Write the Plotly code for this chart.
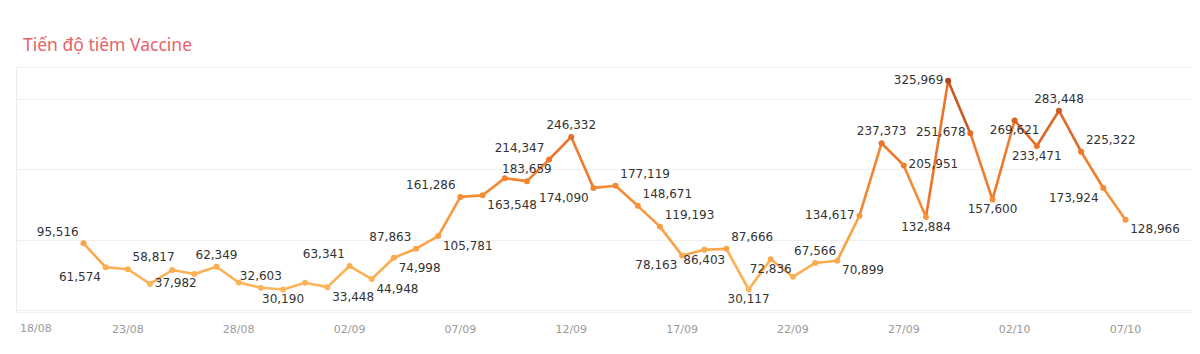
import plotly.graph_objects as go
from plotly.colors import sample_colorscale

# ---- data ----
dates = ["2021-08-21", "2021-08-22", "2021-08-23", "2021-08-24", "2021-08-25", "2021-08-26",
         "2021-08-27", "2021-08-28", "2021-08-29", "2021-08-30", "2021-08-31", "2021-09-01",
         "2021-09-02", "2021-09-03", "2021-09-04", "2021-09-05", "2021-09-06", "2021-09-07",
         "2021-09-08", "2021-09-09", "2021-09-10", "2021-09-11", "2021-09-12", "2021-09-13",
         "2021-09-14", "2021-09-15", "2021-09-16", "2021-09-17", "2021-09-18", "2021-09-19",
         "2021-09-20", "2021-09-21", "2021-09-22", "2021-09-23", "2021-09-24", "2021-09-25",
         "2021-09-26", "2021-09-27", "2021-09-28", "2021-09-29", "2021-09-30", "2021-10-01",
         "2021-10-02", "2021-10-03", "2021-10-04", "2021-10-05", "2021-10-06", "2021-10-07"]
values = [95516, 61574, 58817, 37982, 57700, 52000,
          62349, 40000, 32603, 30190, 39600, 33448,
          63341, 44948, 74998, 87863, 105781, 161286,
          163548, 187900, 183659, 214347, 246332, 174090,
          177119, 148671, 119193, 78163, 86403, 87666,
          30117, 72836, 48200, 67566, 70899, 134617,
          237373, 205951, 132884, 325969, 251678, 157600,
          269621, 233471, 283448, 225322, 173924, 128966]
labeled = [1, 1, 1, 1, 0, 0,
           1, 0, 1, 1, 0, 1,
           1, 1, 1, 1, 1, 1,
           1, 0, 1, 1, 1, 1,
           1, 1, 1, 1, 1, 1,
           1, 1, 0, 1, 1, 1,
           1, 1, 1, 1, 1, 1,
           1, 1, 1, 1, 1, 1]
label_pos = ["top left", "bottom left", "top right", "middle right", "top center", "top center",
             "top center", "top center", "top center", "bottom center", "top center", "bottom right",
             "top left", "bottom right", "bottom right", "top left", "bottom right", "top left",
             "bottom right", "top center", "top center", "top left", "top center", "bottom left",
             "top right", "top right", "top right", "bottom left", "bottom center", "top right",
             "bottom center", "bottom center", "top center", "top center", "bottom right", "middle left",
             "top center", "middle right", "bottom center", "middle left", "middle left", "bottom center",
             "bottom center", "bottom center", "top center", "top right", "bottom left", "bottom right"]
tick_vals = ["2021-08-18", "2021-08-23", "2021-08-28", "2021-09-02", "2021-09-07", "2021-09-12",
             "2021-09-17", "2021-09-22", "2021-09-27", "2021-10-02", "2021-10-07"]
tick_text = ["18/08", "23/08", "28/08", "02/09", "07/09", "12/09",
             "17/09", "22/09", "27/09", "02/10", "07/10"]
title_text = "Tiến độ tiêm Vaccine"

colorscale = [[0.0, "#fdb65c"], [0.35, "#f8983c"], [0.7, "#ea7229"], [1.0, "#b0481c"]]
vmin, vmax = min(values), max(values)
tick_font = dict(family="DejaVu Sans", size=11, color="#9a9a9a")


def col(v):
    t = (v - vmin) / (vmax - vmin)
    return sample_colorscale(colorscale, [min(max(t, 0), 1)])[0]


fig = go.Figure()

# line segments, each coloured by its mean value
for i in range(len(values) - 1):
    fig.add_trace(go.Scatter(
        x=[dates[i], dates[i + 1]], y=[values[i], values[i + 1]],
        mode="lines", line=dict(color=col((values[i] + values[i + 1]) / 2), width=2.6),
        hoverinfo="skip", showlegend=False))

texts = [f"{v:,}" if l else "" for v, l in zip(values, labeled)]
fig.add_trace(go.Scatter(
    x=dates, y=values, mode="markers+text",
    marker=dict(size=6, color=[col(v) for v in values]),
    text=texts, textposition=label_pos,
    textfont=dict(family="DejaVu Sans", size=12, color="#333333"),
    showlegend=False, cliponaxis=False))

# first tick label sits inside the panel (left-aligned) in the reference
tick_labels = [""] + tick_text[1:]
fig.add_annotation(x=tick_vals[0], xref="x", xanchor="left", xshift=1,
                   y=0, yref="paper", yanchor="middle", yshift=-16,
                   text=tick_text[0], showarrow=False, font=tick_font)

fig.update_layout(
    width=1200, height=354,
    margin=dict(l=17, r=8, t=68, b=42, autoexpand=False),
    paper_bgcolor="white", plot_bgcolor="white",
    title=dict(text=title_text, x=23 / 1200, xanchor="left", xref="container",
               y=1 - 45 / 354, yanchor="middle", yref="container",
               font=dict(family="Noto Sans", size=17.5, color="#e8616a")),
    xaxis=dict(type="date", range=["2021-08-18", "2021-10-10"], automargin=False,
               tickvals=tick_vals, ticktext=tick_labels,
               ticks="outside", ticklen=7, tickcolor="rgba(0,0,0,0)",
               tickfont=tick_font,
               showgrid=False, showline=True, mirror=True, linecolor="#f0f0f0", zeroline=False),
    yaxis=dict(range=[-1800, 344000], tickvals=[0, 100000, 200000, 300000], automargin=False,
               showticklabels=False, showgrid=True, gridcolor="#efefef", gridwidth=1,
               zeroline=False, showline=True, linecolor="#ebebeb"),
)

fig.write_html("out.html")
